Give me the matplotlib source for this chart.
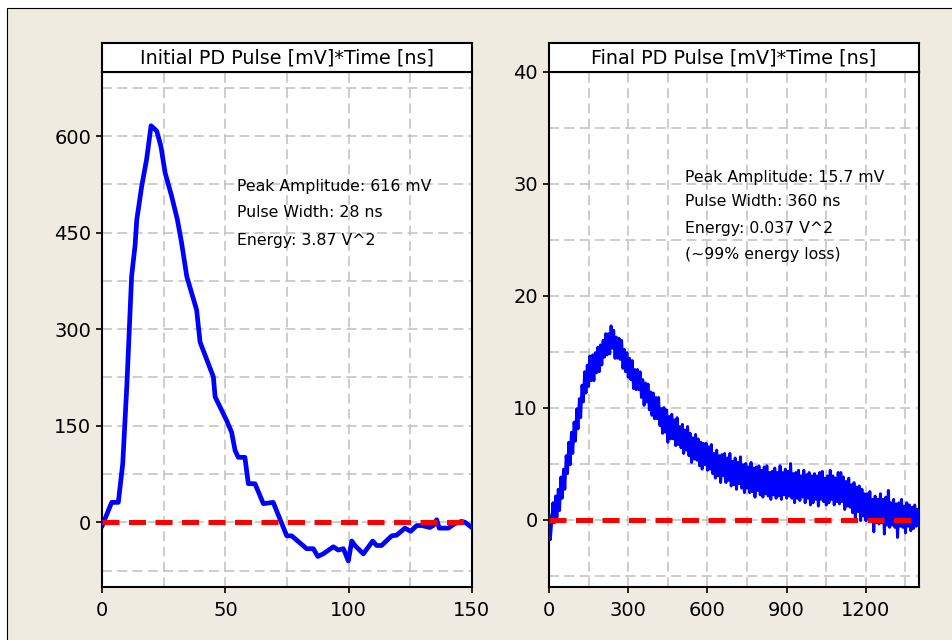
"""
PD pulse before / after propagation - two panel scope style chart
"""

import numpy as np
import matplotlib
matplotlib.use("Agg")
import matplotlib.pyplot as plt
from matplotlib.patches import Rectangle
from matplotlib.ticker import MultipleLocator

# ---- data ----
left_t = [0, 3.8, 6.5, 8.3, 10.0, 11.9, 13.3, 14.0, 16.0, 18.0, 19.8, 22.1, 23.8,
          25.5, 28.2, 30.5, 32.2, 34.3, 38.3, 39.7, 45.1, 45.8, 50.5, 52.5, 53.9,
          55.2, 57.9, 59.3, 62.0, 65.4, 69.4, 74.9, 76.9, 83.0, 85.7, 87.5, 89.7,
          93.8, 95.8, 97.9, 99.9, 101.3, 102.6, 106.0, 109.8, 111.4, 113.4, 117.5,
          119.5, 122.9, 125.2, 127.7, 129.7, 133.0, 134.4, 135.8, 136.8, 140.5,
          143.2, 145.9, 147.3, 150.0]
left_mv = [-5, 31, 31, 91, 215, 382, 430, 470, 522, 564, 616, 608, 584,
           543, 506, 470, 434, 382, 330, 280, 226, 195, 158, 140, 112,
           101, 101, 60, 60, 29, 31, -21, -21, -41, -41, -53, -49,
           -38, -43, -41, -60, -29, -36, -49, -29, -36, -36, -21,
           -20, -9, -14, -5, -5, -8, -5, 4, -9, -9,
           -2, 1.5, 0, -8]

# final pulse, one sample every 5 ns
right_step_ns = 5.0
right_mv = [
    0.4, -1.8, -0.3, 1.5, -0.3, 2.1, 0.2, 2.7, 0.8, 3.8, 1.9, 4.5, 2.7, 5.7, 4.1, 6.9, 4.9, 7.8, 5.9, 8.7,
    7.0, 9.9, 8.1, 10.8, 9.1, 12.0, 10.5, 13.2, 11.3, 13.8, 11.9, 14.6, 12.4, 14.7, 12.4, 14.9, 13.1, 15.4, 13.2, 15.6,
    13.8, 16.0, 14.5, 16.6, 14.7, 16.6, 14.8, 17.3, 15.3, 16.9, 14.4, 16.3, 14.4, 16.2, 14.3, 16.0, 13.5, 15.2, 13.2, 14.9,
    12.7, 14.4, 12.5, 14.2, 11.7, 13.4, 11.6, 13.4, 11.6, 13.2, 10.9, 12.5, 10.2, 12.2, 10.5, 12.1, 9.8, 11.4, 9.3, 11.3,
    9.0, 10.9, 9.0, 10.9, 8.4, 9.9, 7.7, 10.0, 7.8, 9.8, 6.9, 9.2, 7.2, 9.4, 7.2, 8.9, 6.6, 9.1, 6.7, 8.3,
    6.4, 8.5, 5.9, 8.0, 6.2, 8.3, 5.7, 7.7, 5.1, 7.3, 5.4, 7.6, 5.3, 7.2, 4.8, 6.9, 4.5, 6.8, 4.9, 6.8,
    4.4, 6.5, 4.5, 6.7, 4.1, 5.9, 3.7, 6.2, 3.9, 5.7, 3.3, 5.8, 3.9, 5.9, 3.3, 5.5, 3.5, 5.9, 3.0, 5.2,
    3.1, 5.5, 2.7, 5.1, 3.2, 5.6, 2.8, 4.9, 2.4, 5.0, 2.8, 4.7, 2.4, 5.1, 2.5, 4.6, 2.0, 4.7, 2.6, 4.8,
    2.2, 4.4, 2.0, 4.7, 2.3, 4.8, 2.1, 4.2, 1.8, 4.3, 2.2, 4.6, 1.9, 4.2, 2.1, 4.8, 1.8, 4.2, 2.2, 4.5,
    1.9, 4.3, 2.1, 5.0, 1.9, 4.1, 1.5, 4.2, 1.9, 4.4, 1.7, 3.9, 2.0, 4.4, 1.5, 4.0, 1.9, 4.2, 1.3, 3.9,
    1.5, 4.1, 1.8, 3.9, 1.2, 4.2, 1.8, 4.3, 1.6, 3.7, 1.3, 3.9, 1.5, 4.4, 1.8, 3.9, 1.3, 3.7, 1.6, 4.2,
    1.4, 4.2, 1.6, 3.8, 0.9, 3.4, 1.2, 3.7, 1.1, 3.1, 0.6, 3.3, 0.0, 2.9, 0.7, 3.0, -0.1, 2.7, 0.3, 2.3,
    -0.1, 2.3, 0.1, 2.5, -0.2, 1.8, -1.1, 2.1, -0.3, 1.8, -0.4, 2.3, -0.3, 1.8, -1.3, 2.0, -0.5, 2.6, -0.7, 1.5,
    -0.5, 1.8, -0.7, 1.4, -1.6, 1.5, -0.6, 1.8, -0.7, 1.2, -1.2, 1.5, -0.6, 1.3, -1.0, 1.1, -0.8, 1.3, -0.6, 0.9,
    -0.5,
]
right_t = np.arange(len(right_mv)) * right_step_ns

titles = ["Initial PD Pulse [mV]*Time [ns]", "Final PD Pulse [mV]*Time [ns]"]
left_notes = ["Peak Amplitude: 616 mV", "Pulse Width: 28 ns", "Energy: 3.87 V^2"]
right_notes = ["Peak Amplitude: 15.7 mV", "Pulse Width: 360 ns", "Energy: 0.037 V^2",
               "(~99% energy loss)"]

BEIGE = "#efebe1"
GRID = "#c0c0c0"

plt.rcParams["font.family"] = ["DejaVu Sans"]

W, H = 953, 640
fig = plt.figure(figsize=(W / 100, H / 100), dpi=100, facecolor="white")

# beige panel with black border on left/top (behind the axes)
fig.patches.append(Rectangle((7 / W, -0.1), 1.2, 1.1 - 8 / H, transform=fig.transFigure,
                             facecolor=BEIGE, edgecolor="black", lw=0.8, zorder=-10))


def px_box(x0, y0, x1, y1):
    """pixel box (top-left origin) -> figure fraction rect"""
    return [x0 / W, 1 - y1 / H, (x1 - x0) / W, (y1 - y0) / H]


def style_axes(ax, xmaj, xmin, ymaj, ymin):
    ax.set_facecolor("white")
    ax.xaxis.set_major_locator(MultipleLocator(xmaj))
    ax.xaxis.set_minor_locator(MultipleLocator(xmin))
    ax.yaxis.set_major_locator(MultipleLocator(ymaj))
    ax.yaxis.set_minor_locator(MultipleLocator(ymin))
    ax.grid(True, which="both", color=GRID, lw=1.1, linestyle=(0, (6.5, 3.5)))
    ax.set_axisbelow(True)
    for s in ax.spines.values():
        s.set_linewidth(1.5)
        s.set_color("black")
    ax.tick_params(which="major", direction="out", length=4.5, width=1.2,
                   labelsize=14, pad=3.5)
    ax.tick_params(which="minor", length=0)
    ax.tick_params(axis="x", pad=6)


def title_box(rect, text):
    tax = fig.add_axes(rect)
    tax.set_xticks([])
    tax.set_yticks([])
    tax.set_facecolor("white")
    for s in tax.spines.values():
        s.set_linewidth(1.5)
    tax.text(0.5, 0.47, text, ha="center", va="center", fontsize=13.8,
             transform=tax.transAxes)


# ---- left panel ----
ax1 = fig.add_axes(px_box(102.3, 71.7, 471.7, 586.7))
style_axes(ax1, 50, 25, 150, 75)
ax1.set_xlim(0, 150)
ax1.set_ylim(-100, 700)
ax1.plot(left_t, left_mv, color="#0000ff", lw=3.4, zorder=3)
ax1.plot([0, 150], [0, 0], color="#ff0000", lw=3.6, dashes=(3.4, 1.9), zorder=4)
ax1.set_yticks([0, 150, 300, 450, 600])
for i, line in enumerate(left_notes):
    ax1.text(0.365, [0.778, 0.726, 0.673][i], line, transform=ax1.transAxes,
             ha="left", va="center", fontsize=11.3)
title_box(px_box(102.3, 43.3, 471.7, 71.7), titles[0])

# ---- right panel ----
ax2 = fig.add_axes(px_box(549, 71.7, 918.7, 586.7))
style_axes(ax2, 300, 150, 10, 5)
ax2.set_xlim(0, 1400)
ax2.set_ylim(-6, 40)
ax2.plot(right_t, right_mv, color="#0000ff", lw=2.1, zorder=3)
ax2.plot([0, 1380], [0, 0], color="#ff0000", lw=3.6, dashes=(3.4, 1.9), zorder=4)
for i, line in enumerate(right_notes):
    ax2.text(0.367, [0.7955, 0.747, 0.696, 0.645][i], line, transform=ax2.transAxes,
             ha="left", va="center", fontsize=11.3)
title_box(px_box(549, 43.3, 918.7, 71.7), titles[1])

fig.savefig("out.png", dpi=100, facecolor=fig.get_facecolor())
